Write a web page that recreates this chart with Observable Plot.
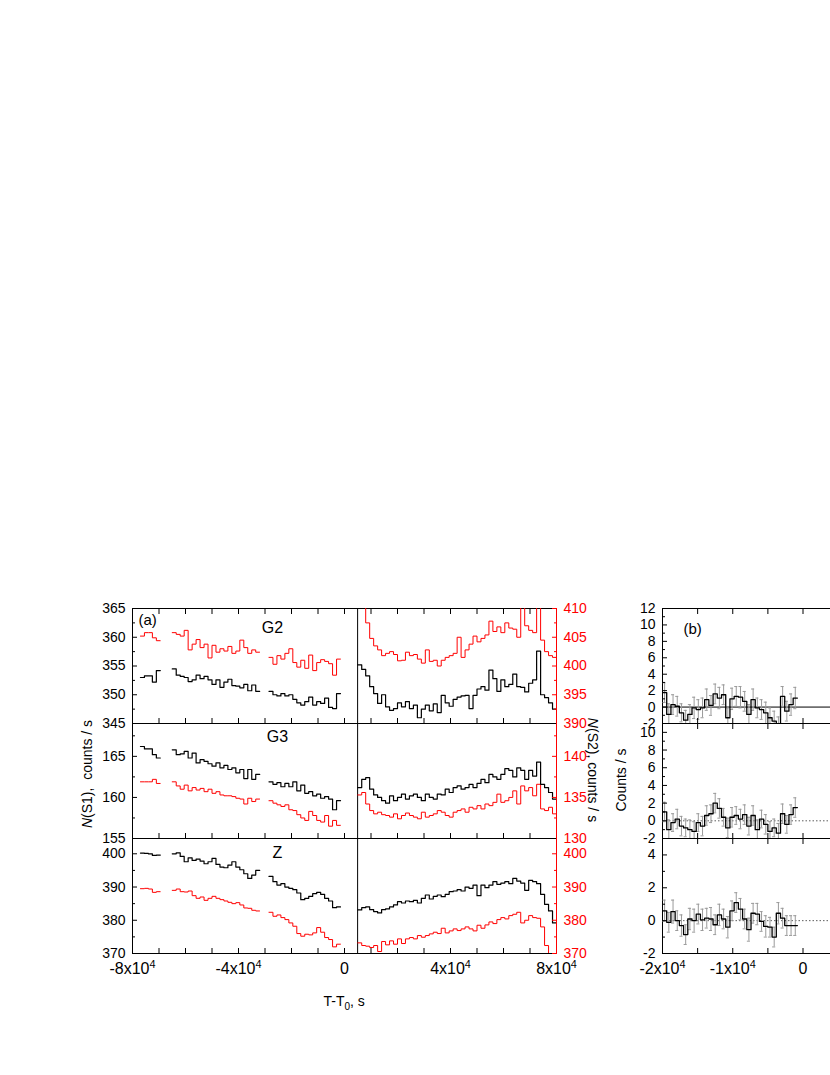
<!DOCTYPE html>
<html><head><meta charset="utf-8">
<script src="https://cdn.jsdelivr.net/npm/d3@7"></script>
<script src="https://cdn.jsdelivr.net/npm/@observablehq/plot@0.6"></script>
<style>
body{margin:0;background:#fff;}
#fig{position:relative;width:830px;height:1075px;overflow:hidden;font-family:"Liberation Sans",Arial,sans-serif;color:#000;}
.abs{position:absolute;}
.ttl{position:absolute;font-size:14px;white-space:nowrap;transform-origin:center center;}
</style></head><body><div id="fig"></div>
<script>
// ---------------- DATA ----------------
// panel (a): bins of 1500 s; left part in three segments, right part one segment
const binA = 1500;
const segStartsA = [-77000, -65000, -28500];
const rightStartA = 5000;
const separatorA = 4950;

// G2
const g2BlackA = [353.0,353.3,353.3,352.2,354.2];
const g2BlackB = [354.5,353.4,353.2,353.0,352.3,352.6,353.4,352.8,353.2,352.6,351.8,352.6,351.3,352.2,352.7,351.6,351.5,351.2,351.8,350.7,351.7,350.6];
const g2BlackC = [350.6,350.0,349.8,350.2,349.8,350.0,349.2,348.6,348.2,348.8,349.6,348.2,348.8,348.5,349.4,347.8,347.6,350.2];
const g2RedA = [360.2,360.8,360.8,359.9,359.4];
const g2RedB = [360.8,360.5,360.2,361.2,357.8,358.8,359.6,358.2,358.8,356.4,358.6,357.4,358.0,357.6,358.4,357.2,357.6,359.5,358.2,357.2,357.8,357.4];
const g2RedC = [356.5,355.3,356.8,356.2,357.2,358.0,355.6,354.8,356.0,354.6,356.9,354.2,355.6,356.1,355.8,355.4,353.4,356.2];
const g2BlackRight = [400.2,399.4,398.3,396.4,395.2,393.5,395.0,392.9,392.3,392.6,393.6,392.9,393.8,392.6,393.2,391.0,392.5,393.2,392.2,393.4,391.9,394.9,393.6,393.0,394.2,394.6,394.8,394.9,392.6,394.9,396.0,396.4,395.8,399.3,397.8,395.6,397.6,396.4,396.8,398.6,396.4,396.3,395.5,397.0,397.6,402.6,395.0,394.5,393.6,392.5];
const g2RedRight = [410.5,410.2,407.5,404.8,403.5,402.8,401.8,402.2,402.5,402.0,400.9,401.0,402.4,401.8,402.0,401.2,400.5,402.8,400.8,401.0,400.0,401.0,401.5,401.8,402.2,405.0,401.5,402.8,403.8,405.2,404.2,404.8,405.4,407.8,406.0,406.8,405.8,407.5,406.6,406.4,405.0,410.5,407.0,406.2,405.8,410.5,404.5,402.5,401.8,401.5];

// G3
const g3BlackA = [166.2,165.9,165.9,165.2,164.8];
const g3BlackB = [165.8,165.2,165.3,165.6,164.8,165.4,164.2,164.6,164.4,164.1,163.8,164.2,163.6,163.9,163.4,163.6,163.0,163.4,162.3,163.4,162.2,162.8];
const g3BlackC = [161.9,161.6,161.8,161.3,161.7,161.3,161.9,160.8,161.5,160.5,160.7,160.2,160.4,159.9,160.1,159.8,158.5,159.6];
const g3RedA = [161.9,161.9,161.9,162.2,161.7];
const g3RedB = [161.9,161.4,161.0,161.5,160.8,161.2,160.9,161.1,160.7,161.0,160.5,160.7,160.3,160.2,160.2,160.1,159.9,159.8,159.2,159.9,159.5,159.8];
const g3RedC = [159.6,159.3,159.1,158.9,159.1,158.5,158.4,157.9,157.5,157.2,158.3,157.8,157.2,157.0,157.8,156.5,157.2,156.6];
const g3BlackRight = [136.2,137.2,137.4,136.0,135.3,135.0,134.6,134.3,135.2,134.6,135.0,135.4,134.8,135.2,135.4,135.0,134.6,135.4,135.0,134.8,135.4,135.3,136.0,135.6,136.2,136.4,136.0,136.2,136.6,136.2,136.7,137.2,136.8,137.8,137.5,137.2,137.8,138.5,138.3,137.5,138.6,138.3,137.2,138.3,137.6,139.3,136.6,136.2,135.6,134.8];
const g3RedRight = [135.3,135.6,134.2,133.4,133.0,133.2,132.9,132.8,132.6,133.0,132.4,132.8,133.1,132.8,132.6,132.4,133.2,132.6,132.8,133.0,133.4,133.2,132.8,132.6,133.2,133.4,133.6,133.2,133.8,133.6,134.0,133.6,134.2,134.0,134.4,135.4,134.4,134.6,135.0,135.8,134.2,136.4,135.8,136.2,135.2,136.6,133.6,133.4,133.8,133.0];

// Z
const zBlackA = [400.2,400.1,400.0,399.5,399.6];
const zBlackB = [400.0,400.3,399.2,397.6,398.8,398.0,398.4,397.8,397.0,397.6,398.6,396.8,396.0,395.8,396.6,397.6,396.0,395.2,394.0,392.6,393.6,395.0];
const zBlackC = [393.2,391.6,390.6,391.0,390.0,389.6,389.2,388.2,386.2,386.6,387.2,388.0,388.4,387.8,386.6,385.8,383.8,384.0];
const zRedA = [389.5,389.6,389.4,388.4,388.6];
const zRedB = [389.0,389.4,388.6,388.5,388.8,387.4,386.6,387.0,386.0,386.6,387.2,386.6,386.2,385.8,385.4,385.0,385.3,384.6,383.7,383.6,383.0,382.8];
const zRedC = [382.4,381.2,381.6,380.8,380.2,379.2,378.2,376.0,375.2,375.8,375.6,376.2,377.8,376.4,374.8,374.2,372.0,372.8];
const zBlackRight = [383.1,383.8,384.0,383.2,382.6,382.2,383.2,383.4,384.0,384.6,385.6,385.2,385.8,385.6,386.0,385.2,386.6,387.6,386.4,387.2,387.6,387.1,387.8,388.6,388.8,389.2,388.8,390.0,389.6,390.6,387.4,390.6,389.8,390.6,391.6,390.8,391.2,391.6,391.0,392.6,391.8,391.2,389.0,392.0,391.6,391.0,387.8,384.8,382.8,379.2];
const zRedRight = [373.2,372.4,372.2,371.8,372.4,370.6,373.6,372.6,373.8,372.8,374.4,373.0,374.4,374.8,374.4,375.4,374.9,375.4,375.9,376.4,376.0,377.6,376.2,376.8,377.4,376.9,377.4,378.0,377.4,376.8,378.5,377.6,378.6,379.5,379.0,380.2,380.8,380.4,381.4,381.8,382.4,379.2,380.0,381.4,380.8,380.6,378.0,372.4,369.6,369.6];

// axis domains and ticks, panel (a)
const g2LeftDomain = [345, 365], g2RightDomain = [390, 410];
const g3LeftDomain = [155, 169], g3RightDomain = [130, 144];
const zLeftDomain = [370, 404.6], zRightDomain = [370, 404.6];
const g2LeftTicks = [345,350,355,360,365], g2LeftMinor = [347.5,352.5,357.5,362.5];
const g2RightTicks = [390,395,400,405,410], g2RightMinor = [392.5,397.5,402.5,407.5];
const g3LeftTicks = [155,160,165], g3LeftMinor = [157.5,162.5,167.5];
const g3RightTicks = [130,135,140], g3RightMinor = [132.5,137.5,142.5];
const zLeftTicks = [370,380,390,400], zLeftMinor = [375,385,395];
const zRightTicks = [370,380,390,400], zRightMinor = [375,385,395];
const xDomainA = [-80000, 80000];
const xTicksA = [-80000,-40000,0,40000,80000];
const xMinorA = [-70000,-60000,-50000,-40000,-30000,-20000,-10000,0,10000,20000,30000,40000,50000,60000,70000];

// panel (b): bins of 600 s starting at -2x10^4
const binB = 600;
const startB = -20000;
const b1Values = [1.75,-0.9,0.3,0.1,-0.7,-1.6,-0.9,-0.1,-0.3,-0.1,0.9,0.2,1.6,1.1,1.5,-1.3,1.0,1.3,1.2,0.7,-0.9,0.9,-0.1,-0.3,-0.7,-1.3,-1.7,-2.5,1.3,-0.5,0.3,1.1];
const b1Errors = [1.2,1.3,1.2,1.2,1.1,1.2,1.2,1.3,1.2,1.2,1.3,1.2,1.2,1.3,1.2,1.2,1.3,1.2,1.3,1.2,1.2,1.3,1.2,1.2,1.3,1.2,1.2,1.3,1.2,1.2,1.3,1.3];
const b2Values = [1.0,-1.0,-0.2,0.2,-0.6,-0.8,-1.0,-1.2,-0.2,-0.6,0.6,0.8,2.0,1.4,0.4,-0.8,0.4,0.6,0.2,0.7,-0.6,0.6,-1.0,0.2,-0.4,-1.2,-0.8,-1.4,0.8,-0.4,0.7,1.5];
const b2Errors = [1.1,1.1,1.0,1.1,1.1,1.0,1.1,1.1,1.0,1.1,1.1,1.0,1.1,1.1,1.0,1.1,1.1,1.0,1.1,1.1,1.0,1.1,1.1,1.0,1.1,1.1,1.0,1.1,1.1,1.0,1.1,1.1];
const b3Values = [0.6,-0.1,0.55,0.0,-0.3,-0.85,0.1,0.0,0.4,0.05,0.15,0.1,-0.25,0.35,0.1,-0.4,0.6,1.1,0.7,0.1,-0.55,0.45,0.4,-0.05,-0.35,-0.4,-1.0,0.45,0.15,-0.3,-0.3,-0.3];
const b3Errors = [0.65,0.6,0.7,0.6,0.65,0.6,0.65,0.7,0.6,0.65,0.6,0.7,0.6,0.65,0.6,0.65,0.6,0.6,0.65,0.6,0.7,0.6,0.65,0.6,0.65,0.6,0.6,0.65,0.6,0.6,0.6,0.6];
const b1Domain = [-2, 12], b2Domain = [-2, 11], b3Domain = [-2, 5];
const b1Ticks = [-2,0,2,4,6,8,10,12], b1Minor = [-1,1,3,5,7,9,11];
const b2Ticks = [-2,0,2,4,6,8,10], b2Minor = [-1,1,3,5,7,9,11];
const b3Ticks = [-2,0,2,4], b3Minor = [-1,1,3,5];
const xDomainB = [-20000, 20000];
const xTicksB = [-20000,-10000,0];
const xMinorB = [-15000,-10000,-5000,0,5000,10000,15000];

// ---------------- BUILD ----------------
const FONT = "'Liberation Sans',Arial,Helvetica,sans-serif";
const SVGSTYLE = `background:transparent;overflow:visible;max-width:none;font-family:${FONT};font-size:14px;`;
const fig = document.getElementById("fig");

function stepRows(start, bin, values, seg) {
  const rows = values.map((v, i) => ({t: start + i * bin, v, seg}));
  rows.push({t: start + values.length * bin, v: values[values.length - 1], seg});
  return rows;
}
function segRows(segs) { return segs.flatMap((vals, j) => stepRows(segStartsA[j], binA, vals, j)); }
function sciLabel(d) { return d === 0 ? "0" : `${d / 1e4}x10^4`; }
function superscripts(svg) {
  d3.select(svg).selectAll("text").each(function () {
    const s = this.textContent; const i = s.indexOf("^");
    if (i < 0) return;
    const el = d3.select(this);
    el.text(s.slice(0, i));
    el.append("tspan").attr("dy", "-0.5em").attr("font-size", "0.68em").text(s.slice(i + 1));
  });
}
function place(svg, left, top) {
  const d = document.createElement("div");
  d.className = "abs"; d.style.left = left + "px"; d.style.top = top + "px";
  d.appendChild(svg); fig.appendChild(d);
  superscripts(svg);
}

const rowsA = [
  {name: "G2", top: 608, yL: g2LeftDomain, tL: g2LeftTicks, mL: g2LeftMinor, yR: g2RightDomain, tR: g2RightTicks, mR: g2RightMinor,
   black: [g2BlackA, g2BlackB, g2BlackC], red: [g2RedA, g2RedB, g2RedC], blackR: g2BlackRight, redR: g2RedRight, ldx: 140, ldy: 19, topTicks: true, xLabels: false},
  {name: "G3", top: 723, yL: g3LeftDomain, tL: g3LeftTicks, mL: g3LeftMinor, yR: g3RightDomain, tR: g3RightTicks, mR: g3RightMinor,
   black: [g3BlackA, g3BlackB, g3BlackC], red: [g3RedA, g3RedB, g3RedC], blackR: g3BlackRight, redR: g3RedRight, ldx: 145, ldy: 13, topTicks: false, xLabels: false},
  {name: "Z", top: 838, yL: zLeftDomain, tL: zLeftTicks, mL: zLeftMinor, yR: zRightDomain, tR: zRightTicks, mR: zRightMinor,
   black: [zBlackA, zBlackB, zBlackC], red: [zRedA, zRedB, zRedC], blackR: zBlackRight, redR: zRedRight, ldx: 145, ldy: 14, topTicks: false, xLabels: true}
];

const A_ML = 60, A_MR = 60, A_W = 544, A_H = 115, A_MT = 10;
rowsA.forEach((r, idx) => {
  const mb = r.xLabels ? 40 : 10;
  const common = {width: A_W, height: A_H + A_MT + mb, marginLeft: A_ML, marginRight: A_MR, marginTop: A_MT, marginBottom: mb, style: SVGSTYLE};
  const marksL = [
    Plot.frame({stroke: "black", strokeWidth: 1}),
    Plot.ruleX([separatorA], {stroke: "black", strokeWidth: 1}),
    Plot.line(segRows(r.red), {x: "t", y: "v", z: "seg", curve: "step-after", stroke: "#ff0000", strokeWidth: 1, clip: true}),
    Plot.line(segRows(r.black), {x: "t", y: "v", z: "seg", curve: "step-after", stroke: "black", strokeWidth: 1.2, clip: true}),
    Plot.axisY({anchor: "left", ticks: r.tL, tickSize: 5, dx: 5, tickPadding: 7, fontSize: 14, label: null, tickFormat: d => String(d)}),
    Plot.axisY({anchor: "left", ticks: r.mL, tickSize: 3, dx: 3, tickFormat: () => "", label: null}),
    Plot.axisX({anchor: "bottom", ticks: xMinorA, tickSize: 5, dy: -5, tickFormat: () => "", label: null}),
    Plot.text([r.name], {text: d => d, frameAnchor: "top-left", dx: r.ldx, dy: r.ldy, textAnchor: "middle", lineAnchor: "middle", fontSize: 16})
  ];
  if (r.topTicks) {
    marksL.push(Plot.axisX({anchor: "top", ticks: xMinorA, tickSize: 5, dy: 5, tickFormat: () => "", label: null}));
    marksL.push(Plot.text(["(a)"], {text: d => d, frameAnchor: "top-left", dx: 6, dy: 12, textAnchor: "start", lineAnchor: "middle", fontSize: 15}));
  }
  if (r.xLabels) {
    marksL.push(Plot.axisX({anchor: "bottom", ticks: xTicksA, tickSize: 0, tickPadding: 9, fontSize: 16, tickFormat: sciLabel, label: null}));
  }
  const left = Plot.plot({...common, x: {domain: xDomainA}, y: {domain: r.yL}, marks: marksL});
  place(left, 132 - A_ML, r.top - A_MT);

  const right = Plot.plot({...common, style: SVGSTYLE + "color:#ff0000;", x: {domain: xDomainA, axis: null}, y: {domain: r.yR}, marks: [
    Plot.line(stepRows(rightStartA, binA, r.redR, 0), {x: "t", y: "v", curve: "step-after", stroke: "#ff0000", strokeWidth: 1, clip: true}),
    Plot.line(stepRows(rightStartA, binA, r.blackR, 0), {x: "t", y: "v", curve: "step-after", stroke: "black", strokeWidth: 1.2, clip: true}),
    Plot.ruleX([xDomainA[1]], {stroke: "#ff0000", strokeWidth: 1}),
    Plot.axisY({anchor: "right", ticks: r.tR, tickSize: 5, dx: -5, tickPadding: 7, fontSize: 14, label: null, tickFormat: d => String(d)}),
    Plot.axisY({anchor: "right", ticks: r.mR, tickSize: 3, dx: -3, tickFormat: () => "", label: null})
  ]});
  place(right, 132 - A_ML, r.top - A_MT);
});

// panel (b)
const rowsB = [
  {top: 608, vals: b1Values, errs: b1Errors, dom: b1Domain, t: b1Ticks, m: b1Minor, solidZero: true, label: true, xLabels: false},
  {top: 723, vals: b2Values, errs: b2Errors, dom: b2Domain, t: b2Ticks, m: b2Minor, solidZero: false, label: false, xLabels: false},
  {top: 838, vals: b3Values, errs: b3Errors, dom: b3Domain, t: b3Ticks, m: b3Minor, solidZero: false, label: false, xLabels: true}
];
const B_ML = 50, B_MR = 10, B_W = 341, capHalf = 220;
rowsB.forEach(r => {
  const mb = r.xLabels ? 40 : 10;
  const errRows = r.vals.map((v, i) => ({x: startB + (i + 0.5) * binB, v, e: r.errs[i]}));
  const marks = [
    Plot.frame({stroke: "black"}),
    r.solidZero ? Plot.ruleY([0], {stroke: "black", strokeWidth: 1})
                : Plot.ruleY([0], {stroke: "#333", strokeWidth: 0.8, strokeDasharray: "1.5,2"}),
    Plot.ruleX(errRows, {x: "x", y1: d => d.v - d.e, y2: d => d.v + d.e, stroke: "#9a9a9a", strokeWidth: 1, clip: true}),
    Plot.ruleY(errRows, {y: d => d.v + d.e, x1: d => d.x - capHalf, x2: d => d.x + capHalf, stroke: "#9a9a9a", strokeWidth: 1, clip: true}),
    Plot.ruleY(errRows, {y: d => d.v - d.e, x1: d => d.x - capHalf, x2: d => d.x + capHalf, stroke: "#9a9a9a", strokeWidth: 1, clip: true}),
    Plot.line(stepRows(startB, binB, r.vals, 0), {x: "t", y: "v", curve: "step-after", stroke: "black", strokeWidth: 1.3, clip: true}),
    Plot.axisY({anchor: "left", ticks: r.t, tickSize: 5, dx: 5, tickPadding: 7, fontSize: 14, label: null, tickFormat: d => String(d)}),
    Plot.axisY({anchor: "left", ticks: r.m, tickSize: 3, dx: 3, tickFormat: () => "", label: null}),
    Plot.axisX({anchor: "bottom", ticks: xMinorB, tickSize: 5, dy: -5, tickFormat: () => "", label: null}),
    Plot.axisX({anchor: "top", ticks: xMinorB, tickSize: 5, dy: 5, tickFormat: () => "", label: null})
  ];
  if (r.label) marks.push(Plot.text(["(b)"], {text: d => d, frameAnchor: "top-left", dx: 21, dy: 21, textAnchor: "start", lineAnchor: "middle", fontSize: 15}));
  if (r.xLabels) marks.push(Plot.axisX({anchor: "bottom", ticks: xTicksB, tickSize: 0, tickPadding: 9, fontSize: 16, tickFormat: sciLabel, label: null}));
  const p = Plot.plot({width: B_W, height: 115 + 10 + mb, marginLeft: B_ML, marginRight: B_MR, marginTop: 10, marginBottom: mb,
    style: SVGSTYLE, x: {domain: xDomainB}, y: {domain: r.dom}, marks});
  place(p, 662 - B_ML, r.top - 10);
});

// axis titles
function title(html, cx, cy, rot) {
  const d = document.createElement("div");
  d.className = "ttl"; d.innerHTML = html; fig.appendChild(d);
  const w = d.offsetWidth, h = d.offsetHeight;
  d.style.left = (cx - w / 2) + "px"; d.style.top = (cy - h / 2) + "px";
  if (rot) d.style.transform = `rotate(${rot}deg)`;
}
title("<i>N</i>(S1),&nbsp; counts / s", 87, 774, -90);
title("<i>N</i>(S2), counts / s", 593, 770, 90);
title("Counts / s", 620, 780, -90);
title("T-T<sub style='font-size:10px'>0</sub>, s", 344, 1002, 0);
</script></body></html>
